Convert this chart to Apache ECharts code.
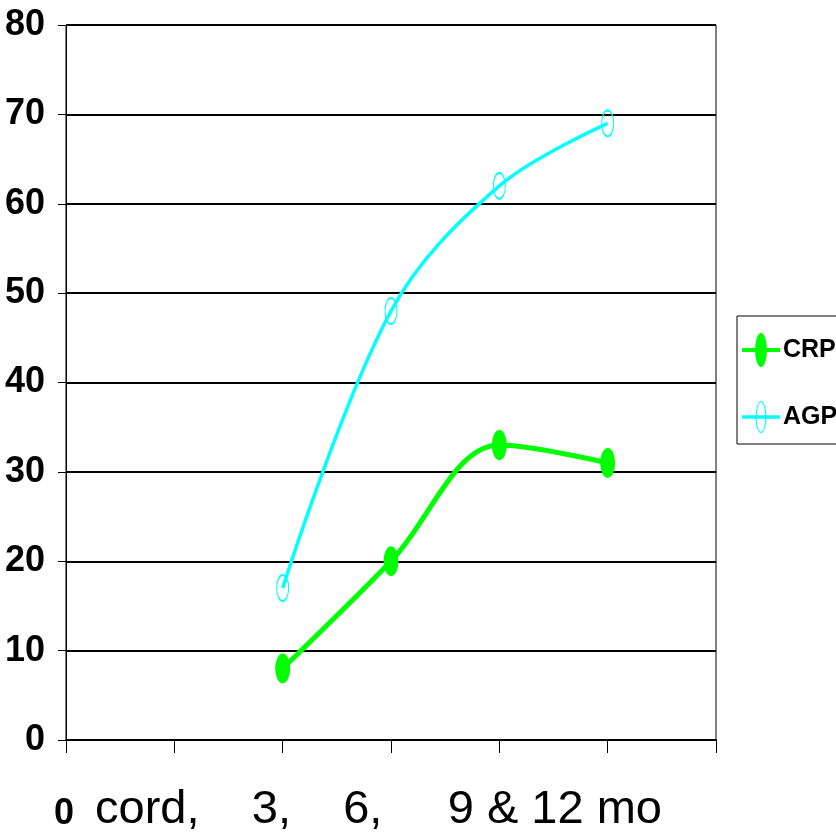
<!DOCTYPE html>
<html>
<head>
<meta charset="utf-8">
<script src="https://cdn.jsdelivr.net/npm/echarts@6/dist/echarts.min.js"></script>
<style>
html,body{margin:0;padding:0;background:#fff;}
#chart{width:836px;height:838px;}
</style>
</head>
<body>
<div id="chart"></div>
<script>
// ---- data ----
var xPositions = [2, 3, 4, 5];
var crpValues = [8, 20, 33, 31];
var agpValues = [17, 48, 62, 69];
var xTickLabels = ['0', '', '', '', '', '', ''];
var yTickLabels = ['0', '10', '20', '30', '40', '50', '60', '70', '80'];
var xAxisTitle = 'cord,    3,    6,     9 & 12 mo';
var seriesNames = ['CRP', 'AGP'];

var narrow = '"Liberation Sans Narrow", "Arial Narrow", "Liberation Sans", Arial, sans-serif';

function pairs(xs, ys) {
  return xs.map(function (x, i) { return [x, ys[i]]; });
}

var ellipsePath = 'path://M0,-1A1,1 0 1,1 0,1A1,1 0 1,1 0,-1Z';
var crpLegendIcon = 'path://M0,15L38,15L38,19L0,19Z M19,0A6,17 0 1,1 19,34A6,17 0 1,1 19,0Z';
var agpLegendIcon = 'path://M0,15.2L38,15.2L38,18.8L0,18.8Z M19,1A5.5,16 0 1,1 19,33A5.5,16 0 1,1 19,1Z M19,2.3A4.3,14.7 0 1,0 19,31.7A4.3,14.7 0 1,0 19,2.3Z';

var chart = echarts.init(document.getElementById('chart'), null, {renderer: 'canvas'});
chart.setOption({
  backgroundColor: '#ffffff',
  animation: false,
  grid: {
    left: 66, right: 120, top: 25, bottom: 98,
    outerBoundsMode: 'none', containLabel: false,
    show: true, borderColor: '#000', borderWidth: 1, backgroundColor: 'transparent'
  },
  legend: {
    orient: 'vertical',
    left: 737, top: 316,
    padding: [17, 6, 11, 5],
    itemWidth: 38, itemHeight: 34, itemGap: 34,
    borderColor: '#000', borderWidth: 1, borderRadius: 0,
    backgroundColor: '#fff',
    textStyle: {fontFamily: narrow, fontWeight: 'bold', fontSize: 25, color: '#000', padding: [0, 0, 0, -2]},
    data: [
      {name: seriesNames[0], icon: crpLegendIcon, itemStyle: {color: '#00ff00', borderWidth: 0}},
      {name: seriesNames[1], icon: agpLegendIcon, itemStyle: {color: '#00ffff', borderWidth: 0}}
    ]
  },
  xAxis: {
    type: 'value', min: 0, max: 6, interval: 1,
    axisLine: {show: true, onZero: false, lineStyle: {color: '#000', width: 2}},
    axisTick: {show: true, length: 13, lineStyle: {color: '#000', width: 1}},
    splitLine: {show: false},
    axisLabel: {
      show: true, margin: 56,
      fontFamily: narrow, fontWeight: 'bold', fontSize: 36, color: '#000',
      formatter: function (v) { return xTickLabels[Math.round(v)] || ''; },
      padding: [0, 4, 0, 0]
    },
    name: xAxisTitle,
    nameLocation: 'middle',
    nameGap: 47,
    nameMoveOverlap: false,
    nameTextStyle: {fontFamily: '"Liberation Sans", Arial, sans-serif', fontSize: 47, color: '#000', padding: [0, 25, 0, 0]}
  },
  yAxis: {
    type: 'value', min: 0, max: 80, interval: 10,
    axisLine: {show: true, lineStyle: {color: '#000', width: 1}},
    axisTick: {show: true, inside: false, length: 8, lineStyle: {color: '#000', width: 1}},
    splitLine: {show: true, lineStyle: {color: '#000', width: 2}},
    axisLabel: {
      margin: 21,
      fontFamily: narrow, fontWeight: 'bold', fontSize: 36, color: '#000',
      formatter: function (v) { return yTickLabels[Math.round(v / 10)]; }
    }
  },
  series: [
    {
      name: seriesNames[0], type: 'line', smooth: 0.35,
      data: pairs(xPositions, crpValues),
      symbol: ellipsePath, symbolSize: [15, 30], symbolKeepAspect: false,
      lineStyle: {color: '#00ff00', width: 5},
      itemStyle: {color: '#00ff00', borderWidth: 0},
      z: 3
    },
    {
      name: seriesNames[1], type: 'line', smooth: 0.35,
      data: pairs(xPositions, agpValues),
      symbol: ellipsePath, symbolSize: [12, 26], symbolKeepAspect: false,
      lineStyle: {color: '#00ffff', width: 3.5},
      itemStyle: {color: 'transparent', borderColor: '#00ffff', borderWidth: 1.5},
      z: 3
    }
  ]
});
</script>
</body>
</html>
